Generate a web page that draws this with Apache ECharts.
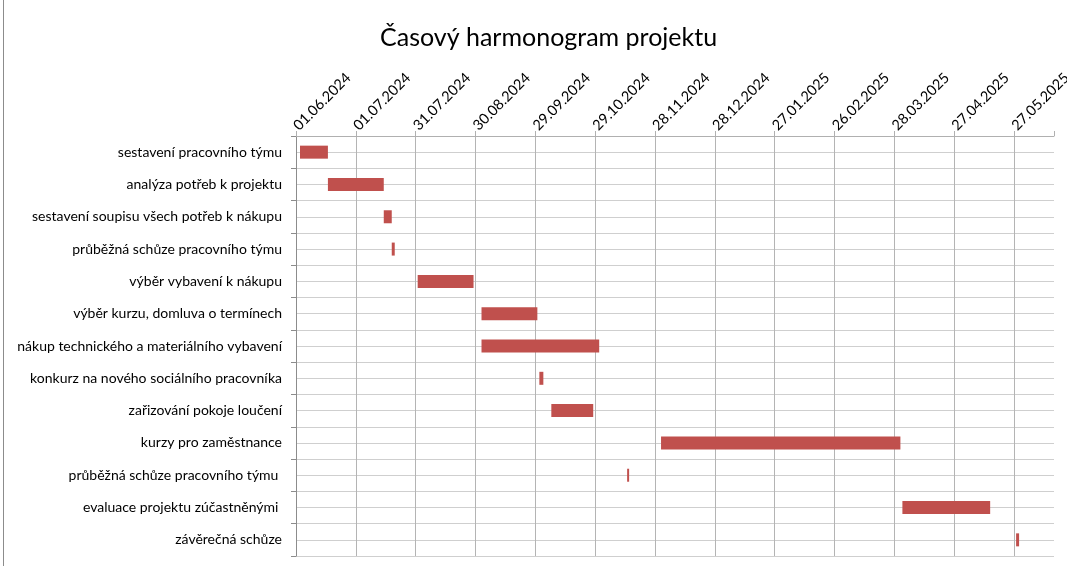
<!DOCTYPE html>
<html lang="cs" style="height: 100%">
<head>
  <meta charset="utf-8">
</head>
<body style="height: 100%; margin: 0">
  <div id="container" style="height: 100%"></div>

  <script type="text/javascript" src="https://fastly.jsdelivr.net/npm/echarts@6.0.0/dist/echarts.min.js"></script>
  <script type="text/javascript">
    // data
    var tasks = [
      'sestavení pracovního týmu',
      'analýza potřeb k projektu',
      'sestavení soupisu všech potřeb k nákupu',
      'průběžná schůze pracovního týmu',
      'výběr vybavení k nákupu',
      'výběr kurzu, domluva o termínech',
      'nákup technického a materiálního vybavení',
      'konkurz na nového sociálního pracovníka',
      'zařizování pokoje loučení',
      'kurzy pro zaměstnance',
      'průběžná schůze pracovního týmu ',
      'evaluace projektu zúčastněnými ',
      'závěrečná schůze'
    ];
    var startDates = [
      '2024-06-03', '2024-06-17', '2024-07-15', '2024-07-19', '2024-08-01',
      '2024-09-02', '2024-09-02', '2024-10-01', '2024-10-07', '2024-12-01',
      '2024-11-14', '2025-04-01', '2025-05-28'
    ];
    var durations = [14, 28, 4, 1.5, 28, 28, 59, 2, 21, 120, 1, 44, 1.5];
    var axisStart = '2024-06-01';
    var axisEndDay = 380;
    var tickStep = 30;

    var DAY = 24 * 3600 * 1000;
    function toDay(s) {
      var p = s.split('-');
      var a = axisStart.split('-');
      return Math.round((Date.UTC(+p[0], +p[1] - 1, +p[2]) - Date.UTC(+a[0], +a[1] - 1, +a[2])) / DAY);
    }
    function fmt(day) {
      var a = axisStart.split('-');
      var d = new Date(Date.UTC(+a[0], +a[1] - 1, +a[2]) + day * DAY);
      var dd = ('0' + d.getUTCDate()).slice(-2);
      var mm = ('0' + (d.getUTCMonth() + 1)).slice(-2);
      return dd + '.' + mm + '.' + d.getUTCFullYear();
    }
    var offsets = startDates.map(toDay);

    var dom = document.getElementById('container');
    var myChart = echarts.init(dom, null, { renderer: 'canvas' });
    var font = 'Lato';

    var option = {
      animation: false,
      backgroundColor: '#fff',
      textStyle: { fontFamily: font },
      title: {
        text: 'Časový harmonogram projektu',
        left: 375,
        top: 20,
        textStyle: { fontFamily: font, fontSize: 25, fontWeight: 'normal', color: '#000' }
      },
      graphic: [
        { type: 'line', shape: { x1: 3.5, y1: 0, x2: 3.5, y2: 566 }, style: { stroke: '#8c8c8c', lineWidth: 1 } }
      ],
      grid: { left: 296, right: 13, top: 136, bottom: 10, outerBoundsMode: 'none', containLabel: false },
      xAxis: {
        type: 'value',
        position: 'top',
        min: 0,
        max: axisEndDay,
        interval: tickStep,
        axisLine: { show: true, lineStyle: { color: '#b0b0b0' } },
        axisTick: { show: true, length: 5, lineStyle: { color: '#b0b0b0' } },
        axisLabel: {
          rotate: 45,
          margin: 8,
          fontSize: 14.5,
          color: '#000',
          fontFamily: font,
          formatter: function (v) { return v % tickStep === 0 ? fmt(v) : ''; }
        },
        splitLine: { show: true, showMaxLine: false, lineStyle: { color: '#b4b4b4' } }
      },
      yAxis: [
        {
          type: 'category',
          inverse: true,
          data: tasks,
          axisLine: { show: true, lineStyle: { color: '#8c8c8c' } },
          axisTick: { show: true, length: 5, lineStyle: { color: '#8c8c8c' } },
          axisLabel: { margin: 14, fontSize: 14, color: '#000', fontFamily: font },
          splitLine: { show: false }
        },
        {
          type: 'value',
          inverse: true,
          min: 0,
          max: tasks.length,
          interval: 0.5,
          axisLine: { show: false },
          axisTick: { show: false },
          axisLabel: { show: false },
          splitLine: { show: true, lineStyle: { color: '#cfcfcf' } }
        }
      ],
      series: [
        {
          type: 'bar',
          stack: 'g',
          yAxisIndex: 0,
          silent: true,
          itemStyle: { color: 'transparent' },
          barWidth: 13,
          data: offsets
        },
        {
          type: 'bar',
          stack: 'g',
          yAxisIndex: 0,
          barWidth: 13,
          itemStyle: { color: '#C0504D' },
          data: durations
        }
      ]
    };

    myChart.setOption(option);
    window.addEventListener('resize', myChart.resize);
  </script>
</body>
</html>
